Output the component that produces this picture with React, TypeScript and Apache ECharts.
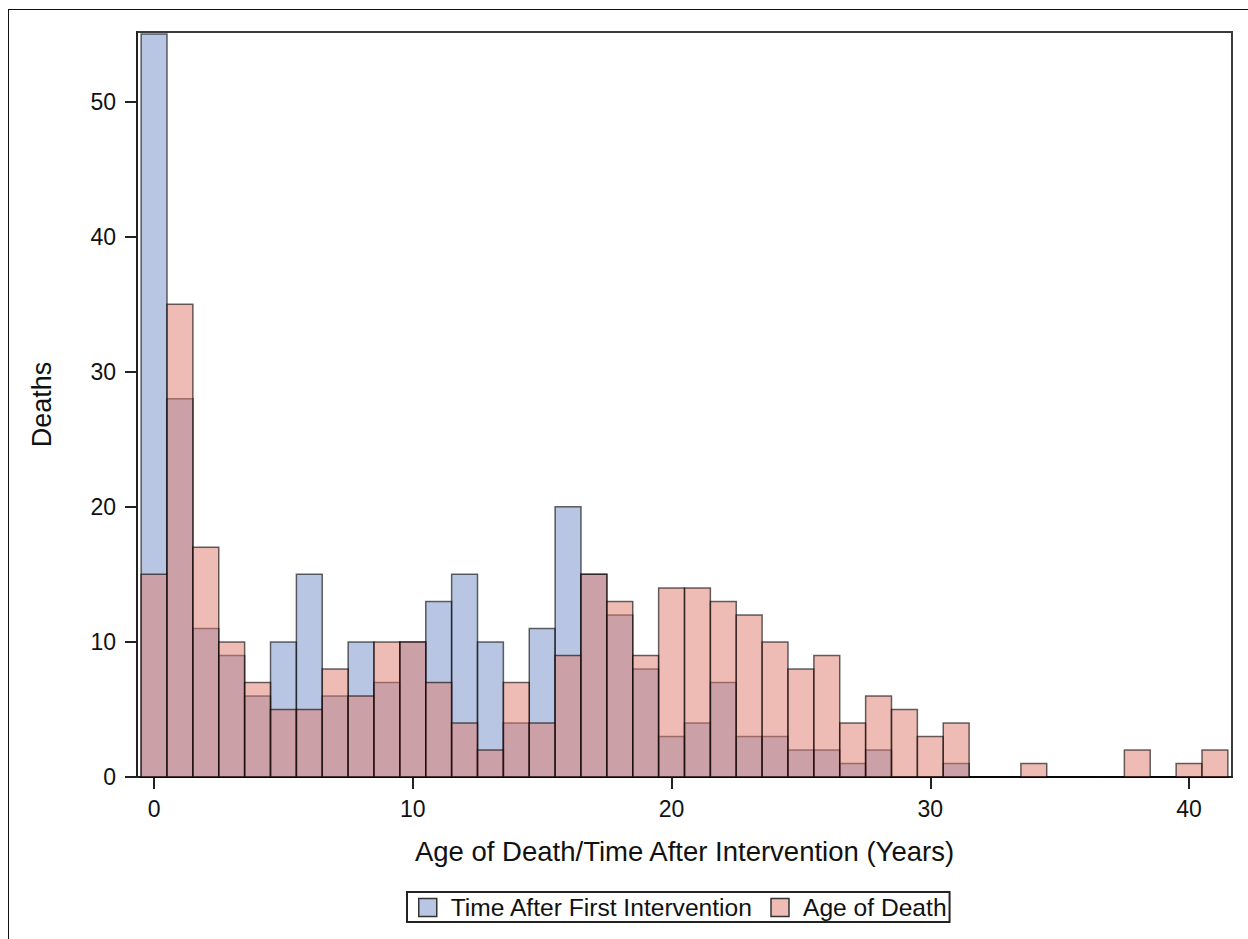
import React, { useEffect, useRef } from "react";
import * as echarts from "echarts";

// Bin centres (years), one-year bins
const bins: number[] = [
  0, 1, 2, 3, 4, 5, 6, 7, 8, 9, 10, 11, 12, 13, 14, 15, 16, 17, 18, 19, 20,
  21, 22, 23, 24, 25, 26, 27, 28, 29, 30, 31, 32, 33, 34, 35, 36, 37, 38, 39, 40, 41,
];
// Time After First Intervention (deaths per bin)
const timeAfterIntervention: number[] = [
  55, 28, 11, 9, 6, 10, 15, 6, 10, 7, 10, 13, 15, 10, 4, 11, 20, 15, 12, 8, 3,
  4, 7, 3, 3, 2, 2, 1, 2, 0, 0, 1, 0, 0, 0, 0, 0, 0, 0, 0, 0, 0,
];
// Age of Death (deaths per bin)
const ageOfDeath: number[] = [
  15, 35, 17, 10, 7, 5, 5, 8, 6, 10, 10, 7, 4, 2, 7, 4, 9, 15, 13, 9, 14,
  14, 13, 12, 10, 8, 9, 4, 6, 5, 3, 4, 0, 0, 1, 0, 0, 0, 2, 0, 1, 2,
];
const xTicks: number[] = [0, 10, 20, 30, 40];
const yTicks: number[] = [0, 10, 20, 30, 40, 50];

const seriesNames = ["Time After First Intervention", "Age of Death"];
const FONT = "'Liberation Sans', Arial, sans-serif";
const BLUE = "rgba(115,141,199,0.5)";
const RED = "rgba(223,121,107,0.5)";
const EDGE = "rgba(0,0,0,0.6)";

function makeRender(fill: string) {
  return (params: any, api: any) => {
    const x = api.value(0);
    const y = api.value(1);
    const p0 = api.coord([x - 0.5, y]);
    const p1 = api.coord([x + 0.5, 0]);
    return {
      type: "rect",
      shape: { x: p0[0], y: p0[1], width: p1[0] - p0[0], height: p1[1] - p0[1] },
      style: { fill, stroke: EDGE, lineWidth: 1.5 },
    };
  };
}

export default function App() {
  const ref = useRef<HTMLDivElement>(null);
  useEffect(() => {
    if (!ref.current) return;
    const chart = echarts.init(ref.current, null, { renderer: "svg" });
    const blueData = bins.map((b, i) => [b, timeAfterIntervention[i]]);
    const redData = bins.map((b, i) => [b, ageOfDeath[i]]);
    chart.setOption({
      animation: false,
      backgroundColor: "#ffffff",
      textStyle: { fontFamily: FONT },
      grid: {
        left: 137,
        right: 16,
        top: 32,
        bottom: 162,
        show: true,
        borderColor: "#3a3a3a",
        borderWidth: 2,
        backgroundColor: "transparent",
      },
      xAxis: {
        type: "value",
        min: -0.66,
        max: 41.66,
        name: "Age of Death/Time After Intervention (Years)",
        nameLocation: "middle",
        nameGap: 60,
        nameTextStyle: { fontSize: 27.5, color: "#111", fontFamily: FONT },
        axisLine: { show: true, onZero: false, lineStyle: { color: "#222", width: 2 } },
        axisTick: { show: true, inside: false, length: 12, customValues: xTicks, lineStyle: { color: "#222", width: 2 } },
        axisLabel: { customValues: xTicks, fontSize: 23, color: "#111", margin: 20, fontFamily: FONT },
        splitLine: { show: false },
      },
      yAxis: {
        type: "value",
        min: 0,
        max: 55.15,
        name: "Deaths",
        nameLocation: "middle",
        nameGap: 82,
        nameRotate: 90,
        nameTextStyle: { fontSize: 27, color: "#111", fontFamily: FONT },
        axisLine: { show: true, onZero: false, lineStyle: { color: "#222", width: 2 } },
        axisTick: { show: true, inside: false, length: 12, customValues: yTicks, lineStyle: { color: "#222", width: 2 } },
        axisLabel: { customValues: yTicks, fontSize: 23, color: "#111", margin: 21, fontFamily: FONT },
        splitLine: { show: false },
      },
      legend: {
        left: 407,
        top: 892,
        orient: "horizontal",
        padding: [3, 3, 2, 11],
        borderColor: "#222",
        borderWidth: 2,
        itemWidth: 18,
        itemHeight: 18,
        itemGap: 17,
        textStyle: { fontSize: 24.6, color: "#111", fontFamily: FONT, padding: [0, 0, 0, 9] },
        data: [
          { name: seriesNames[0], icon: "rect", itemStyle: { color: "#b9c6e3", borderColor: "#333", borderWidth: 1.5 } },
          { name: seriesNames[1], icon: "rect", itemStyle: { color: "#efbcb5", borderColor: "#333", borderWidth: 1.5 } },
        ],
      },
      series: [
        {
          type: "custom",
          name: seriesNames[0],
          renderItem: makeRender(BLUE),
          encode: { x: 0, y: 1 },
          itemStyle: { color: BLUE, borderColor: EDGE },
          data: blueData,
          z: 2,
        },
        {
          type: "custom",
          name: seriesNames[1],
          renderItem: makeRender(RED),
          encode: { x: 0, y: 1 },
          itemStyle: { color: RED, borderColor: EDGE },
          data: redData,
          z: 3,
        },
      ],
    });
    return () => chart.dispose();
  }, []);
  return (
    <>
      <div
        ref={ref}
        style={{ position: "fixed", left: 0, top: 0, width: 1248, height: 939, background: "#fff" }}
      />
      <div
        style={{
          position: "fixed",
          left: 8,
          top: 9,
          width: 1300,
          height: 1000,
          borderTop: "1.5px solid #111",
          borderLeft: "1.5px solid #111",
          pointerEvents: "none",
        }}
      />
    </>
  );
}
